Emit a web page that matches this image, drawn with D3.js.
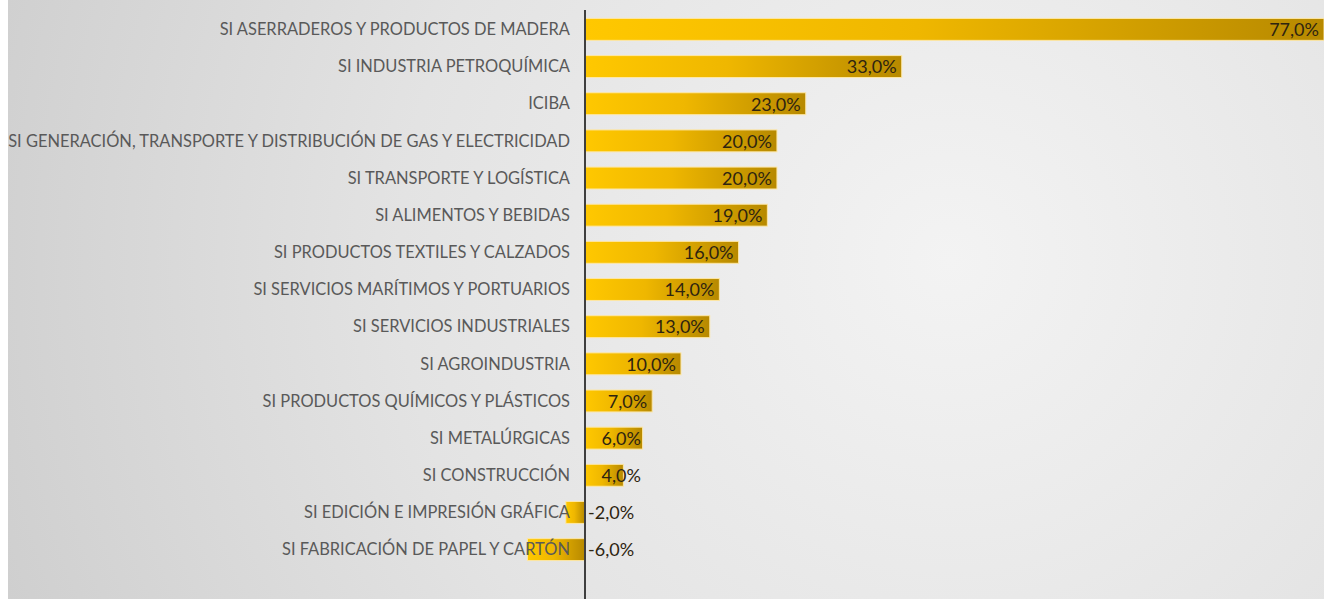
<!DOCTYPE html>
<html>
<head>
<meta charset="utf-8">
<script src="https://cdn.jsdelivr.net/npm/d3@7"></script>
<style>
	body { margin: 0; background: #fff; }
	svg { display: block; }
	text { font-family: Lato, "Open Sans", sans-serif; }
</style>
</head>
<body>
<svg id="chart" width="1324" height="599"></svg>
<script>
const categories = [
	'SI ASERRADEROS Y PRODUCTOS DE MADERA',
	'SI INDUSTRIA PETROQUÍMICA',
	'ICIBA',
	'SI GENERACIÓN, TRANSPORTE Y DISTRIBUCIÓN DE GAS Y ELECTRICIDAD',
	'SI TRANSPORTE Y LOGÍSTICA',
	'SI ALIMENTOS Y BEBIDAS',
	'SI PRODUCTOS TEXTILES Y CALZADOS',
	'SI SERVICIOS MARÍTIMOS Y PORTUARIOS',
	'SI SERVICIOS INDUSTRIALES',
	'SI AGROINDUSTRIA',
	'SI PRODUCTOS QUÍMICOS Y PLÁSTICOS',
	'SI METALÚRGICAS',
	'SI CONSTRUCCIÓN',
	'SI EDICIÓN E IMPRESIÓN GRÁFICA',
	'SI FABRICACIÓN DE PAPEL Y CARTÓN'
];
const values = [77, 33, 23, 20, 20, 19, 16, 14, 13, 10, 7, 6, 4, -2, -6];

const width = 1324, height = 599;
const axisX = 585;
const svg = d3.select('#chart');
const defs = svg.append('defs');

// background: soft radial grey
const bg = defs.append('radialGradient')
	.attr('id', 'bg')
	.attr('gradientUnits', 'userSpaceOnUse')
	.attr('cx', 950).attr('cy', 260).attr('r', 1000);
bg.append('stop').attr('offset', '0%').attr('stop-color', '#f3f3f3');
bg.append('stop').attr('offset', '55%').attr('stop-color', '#e3e3e3');
bg.append('stop').attr('offset', '100%').attr('stop-color', '#cfcfcf');

const barGrad = defs.append('linearGradient')
	.attr('id', 'bar')
	.attr('x1', '0%').attr('x2', '100%').attr('y1', '0%').attr('y2', '0%');
barGrad.append('stop').attr('offset', '0%').attr('stop-color', '#ffc800');
barGrad.append('stop').attr('offset', '45%').attr('stop-color', '#efb700');
barGrad.append('stop').attr('offset', '100%').attr('stop-color', '#b78900');

svg.append('rect')
	.attr('x', 8).attr('y', 0)
	.attr('width', width - 8).attr('height', height)
	.attr('fill', 'url(#bg)');

const x = d3.scaleLinear()
	.domain([0, 77])
	.range([axisX, 1324]);
const y = d3.scaleBand()
	.domain(categories)
	.range([11, 568])
	.paddingInner(0.41)
	.paddingOuter(0.2);

const rows = svg.append('g')
	.selectAll('g')
	.data(categories.map((c, i) => ({ name: c, value: values[i] })))
	.join('g');

rows.append('rect')
	.attr('x', d => x(Math.min(0, d.value)))
	.attr('y', d => y(d.name))
	.attr('width', d => Math.abs(x(d.value) - x(0)))
	.attr('height', y.bandwidth())
	.attr('fill', 'url(#bar)')
	.attr('stroke', '#fde7a6')
	.attr('stroke-width', 1);

// category labels
const labels = rows.append('text')
	.attr('x', 570)
	.attr('y', d => y(d.name) + y.bandwidth() / 2)
	.attr('dy', '0.35em')
	.attr('text-anchor', 'end')
	.attr('fill', '#595959')
	.style('font-size', '15px')
	.text(d => d.name);

// fit the longest label to the space the reference gives it
let widest = d3.max(labels.nodes(), n => n.getComputedTextLength());
labels.style('font-size', (15 * 562 / widest) + 'px');

// value labels
rows.append('text')
	.attr('x', d => d.value < 0 ? axisX + 3 : Math.max(x(d.value) - 5, axisX + 56))
	.attr('y', d => y(d.name) + y.bandwidth() / 2)
	.attr('dy', '0.38em')
	.attr('text-anchor', d => d.value < 0 ? 'start' : 'end')
	.attr('fill', '#2e2410')
	.style('font-size', '18px')
	.text(d => d.value.toFixed(1).replace('.', ',') + '%');

svg.append('line')
	.attr('x1', axisX).attr('x2', axisX)
	.attr('y1', 10).attr('y2', height)
	.attr('stroke', '#3f3f3f')
	.attr('stroke-width', 2);
</script>
</body>
</html>
